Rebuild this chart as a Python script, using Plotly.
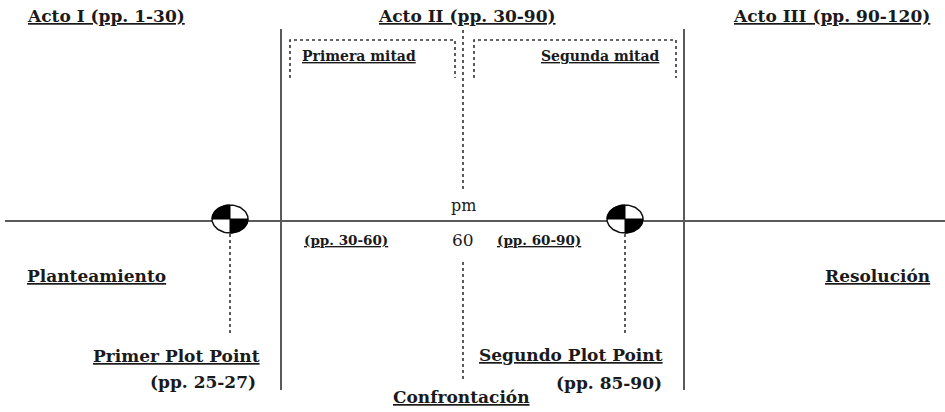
import numpy as np
import plotly.graph_objects as go

# ---------------- data ----------------
act_labels = ["Acto I (pp. 1-30)", "Acto II (pp. 30-90)", "Acto III (pp. 90-120)"]
half_labels = ["Primera mitad", "Segunda mitad"]
half_pages = ["(pp. 30-60)", "(pp. 60-90)"]
midpoint_label = "pm"
midpoint_page = "60"
section_labels = ["Planteamiento", "Confrontación", "Resolución"]
plot_point_labels = ["Primer Plot Point", "Segundo Plot Point"]
plot_point_pages = ["(pp. 25-27)", "(pp. 85-90)"]

# ---------------- layout geometry (pixel space) ----------------
W, H = 945, 412
axis_y = 221
act_lines_x = [281, 684]
act_lines_y = [29, 390]
mid_x = 463
pp_x = [230, 625]
pp_cy = 219
pp_rx, pp_ry = 18, 14

INK = "#1a1a1a"
LINE = "#5a5a5a"
FONT = "DejaVu Serif"

fig = go.Figure()

def seg(x0, y0, x1, y1, color=LINE, width=2, dash="solid"):
    fig.add_trace(go.Scatter(x=[x0, x1], y=[y0, y1], mode="lines",
                             line=dict(color=color, width=width, dash=dash),
                             hoverinfo="skip", showlegend=False))

# main horizontal axis
seg(5, axis_y, W, axis_y)
# act boundaries
for x in act_lines_x:
    seg(x, act_lines_y[0], x, act_lines_y[1])
# midpoint dotted line
seg(mid_x, 30, mid_x, 192, color="#333", width=1.6, dash="dot")
seg(mid_x, 262, mid_x, 381, color="#333", width=1.6, dash="dot")
# half brackets
for (xl, xr) in [(290, 455), (474, 676)]:
    fig.add_trace(go.Scatter(x=[xl, xl, xr, xr], y=[78, 40, 40, 78], mode="lines",
                             line=dict(color="#333", width=1.6, dash="dot"),
                             hoverinfo="skip", showlegend=False))
# plot point drop lines
for x in pp_x:
    seg(x, 234, x, 336, color="#333", width=1.6, dash="dot")

# plot point symbols
t_full = np.linspace(0, 2 * np.pi, 90)
for cx in pp_x:
    fig.add_trace(go.Scatter(x=cx + pp_rx * np.cos(t_full), y=pp_cy + pp_ry * np.sin(t_full),
                             mode="lines", fill="toself", fillcolor="white",
                             line=dict(color="#111", width=1.5),
                             hoverinfo="skip", showlegend=False))
    for a0, a1 in [(np.pi, 1.5 * np.pi), (0, 0.5 * np.pi)]:
        t = np.linspace(a0, a1, 30)
        xs = np.concatenate([[cx], cx + pp_rx * np.cos(t), [cx]])
        ys = np.concatenate([[pp_cy], pp_cy + pp_ry * np.sin(t), [pp_cy]])
        fig.add_trace(go.Scatter(x=xs, y=ys, mode="lines", fill="toself",
                                 fillcolor="#000", line=dict(color="#000", width=1),
                                 hoverinfo="skip", showlegend=False))

annotations = []

def label(text, x, y, anchor="left", size=17, bold=True, under=True):
    annotations.append(dict(
        text=text, x=x, y=y, xref="x", yref="y", xanchor=anchor, yanchor="middle",
        showarrow=False,
        font=dict(family=FONT, size=size, color=INK,
                  weight=700 if bold else 400,
                  lineposition="under" if under else "none")))

# act headers
label(act_labels[0], 25, 16, "left", 17)
label(act_labels[1], 467, 16, "center", 17)
label(act_labels[2], 932, 16, "right", 17)
# halves
label(half_labels[0], 300, 56, "left", 14)
label(half_labels[1], 662, 56, "right", 14)
label(half_pages[0], 302, 240, "left", 13.5)
label(half_pages[1], 495, 240, "left", 13.5)
# midpoint
label(midpoint_label, mid_x, 205, "center", 16, bold=False, under=False)
label(midpoint_page, mid_x, 240, "center", 17, bold=False, under=False)
# sections
label(section_labels[0], 25, 276, "left", 17)
label(section_labels[1], 391, 397, "left", 17)
label(section_labels[2], 932, 276, "right", 17)
# plot points
label(plot_point_labels[0], 262, 356, "right", 17)
label(plot_point_pages[0], 258, 382, "right", 17, under=False)
label(plot_point_labels[1], 665, 355, "right", 17)
label(plot_point_pages[1], 664, 383, "right", 17, under=False)

fig.update_layout(
    width=W, height=H, autosize=False,
    margin=dict(l=0, r=0, t=0, b=0),
    paper_bgcolor="white", plot_bgcolor="white",
    xaxis=dict(range=[0, W], visible=False, fixedrange=True),
    yaxis=dict(range=[H, 0], visible=False, fixedrange=True),
    annotations=annotations,
    showlegend=False,
)

fig.write_html("out.html",
               config={"displayModeBar": False, "staticPlot": True},
               post_script="document.body.style.margin='0px';document.body.style.overflow='hidden';")
